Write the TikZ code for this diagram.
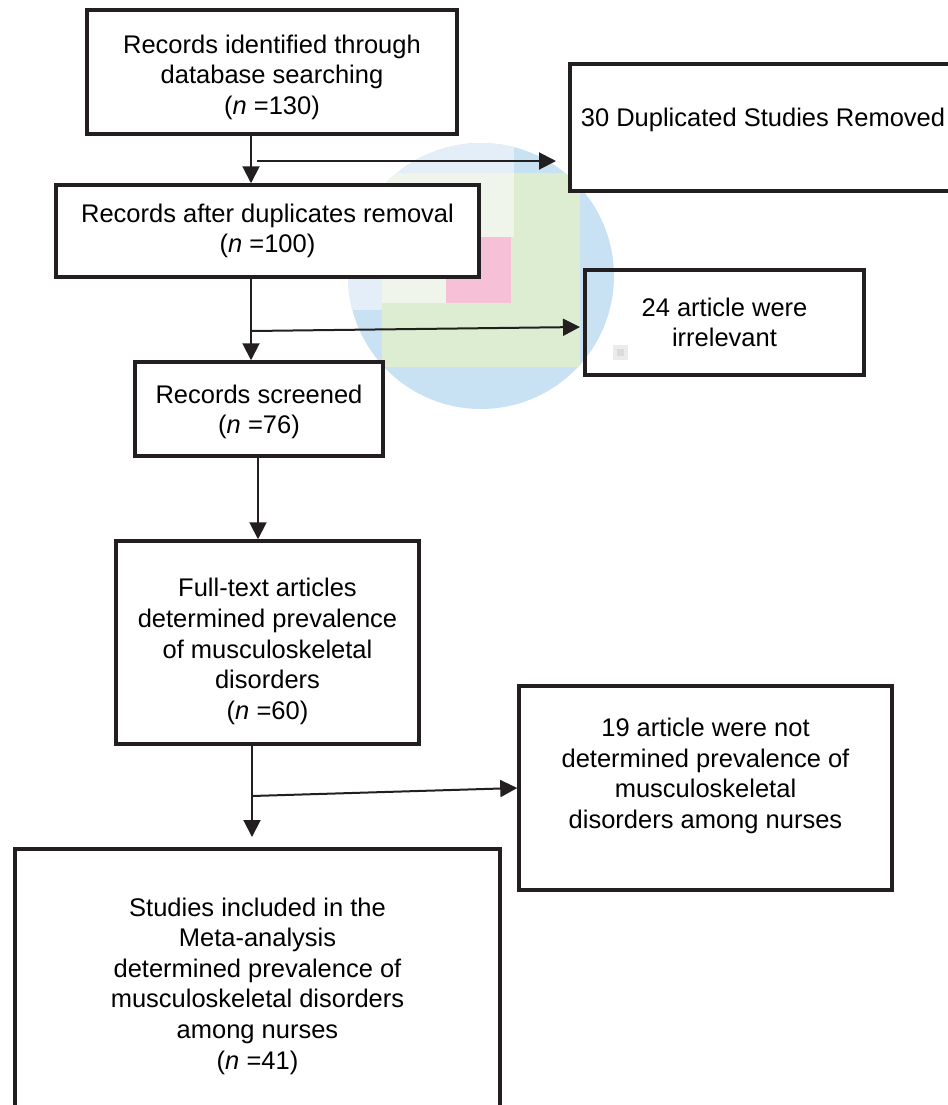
\documentclass[tikz,border=0pt]{standalone}
\usepackage{fontspec}
\setmainfont{Liberation Sans}
\usetikzlibrary{arrows.meta}
\definecolor{inkline}{HTML}{231F20}
\definecolor{markblue}{HTML}{C9E2F3}
\definecolor{markbluelight}{HTML}{E4EEF8}
\definecolor{markgreen}{HTML}{DDEDD2}
\definecolor{markgreenlight}{HTML}{EFF5EA}
\definecolor{markpink}{HTML}{F6C1D7}
\newcommand{\flowfont}{\fontsize{12.75}{15.3}\selectfont}
\tikzset{
	flowbox/.style = {
		rectangle,
		align=center,
		inner sep=0pt,
		font=\flowfont,
		draw=inkline,
		fill=white,
		line width=1.75pt
	},
	flowbox_open/.style = {
		flowbox,
		fill=none
	},
	flowarrow/.style = {
		->,
		draw=inkline,
		line width=1pt
	},
}

\begin{document}
\begin{tikzpicture}[x=0.5pt,y=-0.5pt,>={Triangle[length=8.5pt,width=8.5pt]}]
\useasboundingbox (0,0) rectangle (948,1105);
\clip (0,0) rectangle (948,1105);

% blurred mark behind the boxes
\begin{scope}
\clip (481,276) circle [radius=133];
\fill [markblue] (340,130) rectangle (620,420);
\fill [markbluelight] (340,130) rectangle (514,173);
\fill [markbluelight] (340,173) rectangle (382,310);
\fill [markgreen] (382,173) rectangle (580,367);
\fill [markgreenlight] (382,173) rectangle (514,237);
\fill [markgreenlight] (382,237) rectangle (446,303);
\fill [markpink] (446,237) rectangle (511,303);
\end{scope}
\fill [black!8] (613,345) rectangle (628,360);
\fill [black!14] (617,349) rectangle (624,356);

% boxes
\node [flowbox, minimum width=185pt, minimum height=62pt, text height=44.9pt] (identified) at (272,72)
	{Records identified through\\database searching\\(\textit{n} =130)};
\node [flowbox, minimum width=193pt, minimum height=63.5pt, text depth=10pt] (duplicates) at (763,127.5)
	{30 Duplicated Studies Removed};
\node [flowbox, minimum width=211.5pt, minimum height=46pt] (afterdup) at (267.5,231)
	{Records after duplicates removal\\(\textit{n} =100)};
\node [flowbox_open, minimum width=139.5pt, minimum height=52.5pt] (irrelevant) at (724.5,322.5)
	{24 article were\\irrelevant};
\node [flowbox, minimum width=124pt, minimum height=47pt, text height=27.6pt] (screened) at (259,409)
	{Records screened\\(\textit{n} =76)};
\node [flowbox, minimum width=151.5pt, minimum height=101.5pt, text height=79.5pt] (fulltext) at (267.5,642.5)
	{Full-text articles\\determined prevalence\\of musculoskeletal\\disorders\\(\textit{n} =60)};
\node [flowbox, minimum width=186.5pt, minimum height=102pt, text depth=14.7pt] (notprev) at (705.5,788)
	{19 article were not\\determined prevalence of\\musculoskeletal\\disorders among nurses};
\node [flowbox, minimum width=242.5pt, minimum height=137pt] (included) at (257.5,986)
	{Studies included in the\\Meta-analysis\\determined prevalence of\\musculoskeletal disorders\\among nurses\\(\textit{n} =41)};

% connectors
\coordinate (trunk_a) at (251,0);
\coordinate (trunk_b) at (258,0);
\coordinate (dup_from) at (257,161);
\coordinate (dup_to) at (556,161);
\coordinate (irr_from) at (251,331);
\coordinate (irr_to) at (580,327);
\coordinate (notprev_from) at (252,796);
\coordinate (incl_to) at (252,837);

\draw [flowarrow] (identified.south -| trunk_a) -- (afterdup.north -| trunk_a);
\draw [flowarrow] (dup_from) -- (dup_to);
\draw [flowarrow] (afterdup.south -| trunk_a) -- (screened.north -| trunk_a);
\draw [flowarrow] (irr_from) -- (irr_to);
\draw [flowarrow] (screened.south -| trunk_b) -- (fulltext.north -| trunk_b);
\draw [flowarrow] (fulltext.south -| incl_to) -- (incl_to);
\draw [flowarrow] (notprev_from) -- (notprev.west);
\end{tikzpicture}
\end{document}
